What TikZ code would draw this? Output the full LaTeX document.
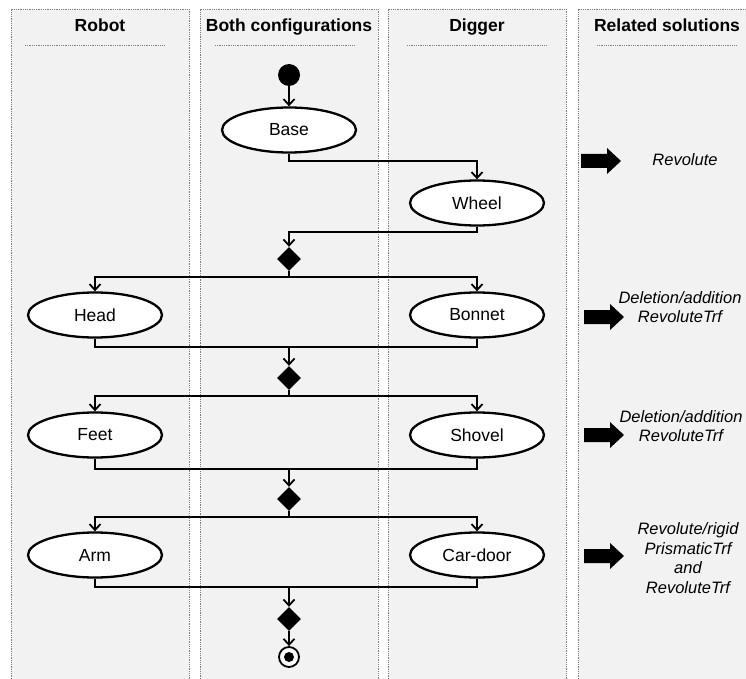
\documentclass[tikz,border=0pt]{standalone}
\usepackage{fontspec}
\setmainfont{Liberation Sans}
\usetikzlibrary{arrows.meta,shapes.geometric,positioning,calc}
\definecolor{lanebg}{HTML}{F2F2F2}
\definecolor{laneline}{HTML}{808080}
\tikzset{
  lanefill/.style={fill=lanebg, draw=none},
  laneborder/.style={draw=laneline, densely dotted, line width=0.8pt},
  titleline/.style={draw=laneline, densely dotted, line width=0.8pt},
  lanetitle/.style={font=\fontsize{17.5}{20}\selectfont\bfseries, inner sep=0pt, anchor=base},
  act/.style={ellipse, draw=black, fill=white, line width=2.3pt, minimum width=134pt, minimum height=45pt, inner sep=0pt, font=\fontsize{17.5}{20}\selectfont},
  dec/.style={diamond, fill=black, draw=none, minimum width=24pt, minimum height=24pt, inner sep=0pt},
  flow/.style={draw=black, line width=1.8pt},
  flowarr/.style={flow, -{Straight Barb[length=6pt,width=11pt]}},
  sol/.style={font=\fontsize{16.5}{19.5}\selectfont\itshape, align=center, inner sep=0pt},
  blockarr/.style={fill=black, draw=none},
}
\begin{document}
\begin{tikzpicture}[x=1pt,y=-1pt]
\useasboundingbox (0,0) rectangle (746,679);
% lanes
\foreach \xa/\xb in {11/189, 200/378, 388/566}{
  \fill[lanefill] (\xa,9) rectangle (\xb,679);
  \draw[laneborder] (\xa,679) -- (\xa,9) -- (\xb,9) -- (\xb,679);
}
\fill[lanefill] (578,9) rectangle (746,679);
\draw[laneborder] (578,679) -- (578,9) -- (746,9);
% titles
\node[lanetitle] (t1) at (100,32) {Robot};
\node[lanetitle] (t2) at (289,32) {Both configurations};
\node[lanetitle] (t3) at (477,32) {Digger};
\node[lanetitle] (t4) at (667,32) {Related solutions};
\draw[titleline] (25,45) -- (165,45);
\draw[titleline] (215,45) -- (355,45);
\draw[titleline] (407,45) -- (547,45);
\draw[titleline] (597,45) -- (737,45);
% nodes
\node[circle, fill=black, minimum size=22pt, inner sep=0pt] (start) at (289,75) {};
\node[act] (base) at (289,130) {Base};
\node[act] (wheel) at (477,203) {Wheel};
\node[dec] (d1) at (289,259) {};
\node[act] (head) at (95,315) {Head};
\node[act] (bonnet) at (477,315) {Bonnet};
\node[dec] (d2) at (289,378) {};
\node[act] (feet) at (95,435) {Feet};
\node[act] (shovel) at (477,435) {Shovel};
\node[dec] (d3) at (289,499) {};
\node[act] (arm) at (95,555) {Arm};
\node[act] (cardoor) at (477,555) {Car-door};
\node[dec] (d4) at (289,619) {};
\node[circle, draw=black, line width=1.8pt, fill=white, minimum size=20pt, inner sep=0pt] (end) at (289,657) {};
\fill[black] (end.center) circle (5pt);
% coordinates
\coordinate (c1) at (289,161);
\coordinate (c2) at (289,232);
\coordinate (s1) at (289,277);
\coordinate (j1) at (289,347);
\coordinate (s2) at (289,396);
\coordinate (j2) at (289,469);
\coordinate (s3) at (289,517);
\coordinate (j3) at (289,587);
% connectors
\draw[flowarr] (start) -- (base);
\draw[flowarr] (base.south) -- (c1) -| (wheel.north);
\draw[flowarr] (wheel.south) |- (c2) -- (d1.north);
\draw[flow] (d1.south) -- (s1);
\draw[flowarr] (s1) -| (head.north);
\draw[flowarr] (s1) -| (bonnet.north);
\draw[flow] (head.south) |- (j1);
\draw[flow] (bonnet.south) |- (j1);
\draw[flowarr] (j1) -- (d2.north);
\draw[flow] (d2.south) -- (s2);
\draw[flowarr] (s2) -| (feet.north);
\draw[flowarr] (s2) -| (shovel.north);
\draw[flow] (feet.south) |- (j2);
\draw[flow] (shovel.south) |- (j2);
\draw[flowarr] (j2) -- (d3.north);
\draw[flow] (d3.south) -- (s3);
\draw[flowarr] (s3) -| (arm.north);
\draw[flowarr] (s3) -| (cardoor.north);
\draw[flow] (arm.south) |- (j3);
\draw[flow] (cardoor.south) |- (j3);
\draw[flowarr] (j3) -- (d4.north);
\draw[flowarr] (d4.south) -- (end.north);
% related solutions
\foreach \n/\xx/\yy in {a1/581/161, a2/584/317, a3/584/435, a4/584/556}{
  \coordinate (\n) at (\xx,\yy);
  \fill[blockarr] (\n) ++(0,-7) -- ++(26,0) -- ++(0,-6) -- ++(14,13) -- ++(-14,13) -- ++(0,-6) -- ++(-26,0) -- cycle;
}
\node[sol] (r1) at (685,160) {Revolute};
\node[sol] (r2) at (680,307) {Deletion/addition\\RevoluteTrf};
\node[sol] (r3) at (681,426) {Deletion/addition\\RevoluteTrf};
\node[sol] (r4) at (688,558) {Revolute/rigid\\PrismaticTrf\\and\\RevoluteTrf};
\end{tikzpicture}
\end{document}
